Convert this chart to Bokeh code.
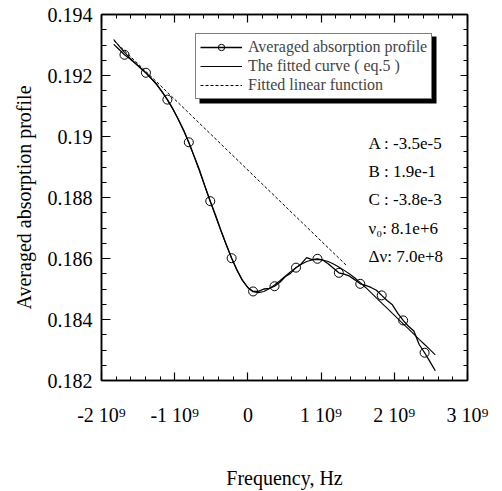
from bokeh.plotting import figure
from bokeh.models import (LinearAxis, FixedTicker, Legend, LegendItem, Range1d,
                          BoxAnnotation, CustomLabelingPolicy)
from bokeh.core.properties import value
from bokeh.embed import file_html
from bokeh.resources import INLINE

# ---------------- data (frequency in units of 1e9 Hz) ----------------
freq_ghz = [-1.832, -1.759, -1.686, -1.613, -1.540, -1.466, -1.393, -1.320, -1.247, -1.173,
            -1.100, -1.027, -0.954, -0.880, -0.807, -0.734, -0.661, -0.588, -0.514, -0.441,
            -0.368, -0.295, -0.222, -0.148, -0.075, -0.002, 0.071, 0.144, 0.218, 0.291,
            0.364, 0.437, 0.510, 0.584, 0.657, 0.730, 0.803, 0.876, 0.950, 1.023,
            1.096, 1.169, 1.242, 1.316, 1.389, 1.462, 1.535, 1.608, 1.682, 1.755,
            1.828, 1.901, 1.974, 2.048, 2.121, 2.194, 2.267, 2.340, 2.414, 2.487,
            2.560]

profile = [0.19302, 0.19285, 0.19268, 0.19255, 0.19240, 0.19224, 0.19209, 0.19190, 0.19172, 0.19146,
           0.19121, 0.19092, 0.19058, 0.19022, 0.18981, 0.18935, 0.18890, 0.18838, 0.18788, 0.18742,
           0.18692, 0.18646, 0.18601, 0.18561, 0.18528, 0.18505, 0.18492, 0.18492, 0.18500, 0.18502,
           0.18509, 0.18522, 0.18540, 0.18552, 0.18570, 0.18583, 0.18603, 0.18596, 0.18599, 0.18595,
           0.18583, 0.18568, 0.18553, 0.18549, 0.18542, 0.18530, 0.18517, 0.18512, 0.18505, 0.18496,
           0.18479, 0.18462, 0.18448, 0.18420, 0.18397, 0.18378, 0.18362, 0.18318, 0.18291, 0.18262,
           0.18232]

fitted = [0.19318, 0.19296, 0.19276, 0.19258, 0.19241, 0.19225, 0.19208, 0.19190, 0.19170, 0.19147,
          0.19120, 0.19090, 0.19057, 0.19020, 0.18979, 0.18934, 0.18886, 0.18837, 0.18787, 0.18738,
          0.18690, 0.18644, 0.18601, 0.18562, 0.18529, 0.18505, 0.18491, 0.18488, 0.18492, 0.18501,
          0.18513, 0.18527, 0.18542, 0.18557, 0.18570, 0.18581, 0.18590, 0.18595, 0.18597, 0.18595,
          0.18590, 0.18582, 0.18572, 0.18561, 0.18549, 0.18536, 0.18521, 0.18505, 0.18488, 0.18471,
          0.18454, 0.18437, 0.18420, 0.18403, 0.18386, 0.18369, 0.18352, 0.18335, 0.18318, 0.18301,
          0.18284]

linear_freq_ghz = [-1.832, 1.360]
linear_vals = [0.19315, 0.18574]

x_ticks = [-2000000000, -1000000000, 0, 1000000000, 2000000000, 3000000000]
x_tick_labels = ["-2 10\u2079", "-1 10\u2079", "0", "1 10\u2079", "2 10\u2079", "3 10\u2079"]
y_ticks = [0.182, 0.184, 0.186, 0.188, 0.19, 0.192, 0.194]
y_tick_labels = ["0.182", "0.184", "0.186", "0.188", "0.19", "0.192", "0.194"]

param_labels = ["A : -3.5e-5", "B :  1.9e-1", "C : -3.8e-3",
                "\u03bd\u2080:  8.1e+6", "\u0394\u03bd:  7.0e+8"]

legend_labels = ["Averaged absorption profile", "The fitted curve ( eq.5 )",
                 "Fitted linear function"]

FONT = "Liberation Serif"

freq_hz = [f * 1e9 for f in freq_ghz]
lin_hz = [f * 1e9 for f in linear_freq_ghz]

p = figure(width=502, height=491, output_backend="svg", toolbar_location=None,
           x_range=Range1d(-2e9, 3e9), y_range=Range1d(0.182, 0.194),
           min_border_left=101, min_border_right=35, min_border_top=14,
           min_border_bottom=111,
           x_axis_label="Frequency, Hz", y_axis_label="Averaged absorption profile")
p.grid.visible = False
p.outline_line_color = "black"
p.outline_line_width = 1.5
p.background_fill_color = "white"
p.border_fill_color = "white"

x_minor = [(-2 + 0.2 * k) * 1e9 for k in range(26)]
y_minor = [0.182 + 0.0005 * k for k in range(25)]
xticker = FixedTicker(ticks=x_ticks, minor_ticks=x_minor)
yticker = FixedTicker(ticks=y_ticks, minor_ticks=y_minor)


def style_axis(ax, ticker, major_in, minor_in):
    ax.ticker = ticker
    ax.major_tick_in = major_in
    ax.major_tick_out = 0
    ax.minor_tick_in = minor_in
    ax.minor_tick_out = 0
    ax.axis_line_color = "black"
    ax.axis_line_width = 1.5
    ax.major_tick_line_color = "black"
    ax.minor_tick_line_color = "black"
    ax.major_tick_line_width = 1.2
    ax.minor_tick_line_width = 1.0
    ax.major_label_text_font = FONT
    ax.major_label_text_font_size = "20px"
    ax.major_label_text_color = "black"
    ax.axis_label_text_font = FONT
    ax.axis_label_text_font_size = "20px"
    ax.axis_label_text_font_style = "normal"
    ax.axis_label_text_color = "black"


xa = p.xaxis[0]
style_axis(xa, xticker, 8, 4)
xa.major_label_overrides = dict(zip(x_ticks, x_tick_labels))
xa.major_label_standoff = 23
xa.axis_label_standoff = 38

ya = p.yaxis[0]
style_axis(ya, yticker, 9, 5)
ya.major_label_overrides = dict(zip(y_ticks, y_tick_labels))
ya.major_label_standoff = 9
ya.axis_label_standoff = 10

# mirror axes: ticks only, no labels
top = LinearAxis()
style_axis(top, xticker, 8, 4)
top.major_label_policy = CustomLabelingPolicy(code="return new Set()")
top.major_label_text_font_size = "1px"
top.major_label_standoff = 0
p.add_layout(top, "above")

right = LinearAxis()
style_axis(right, yticker, 7, 4)
right.major_label_policy = CustomLabelingPolicy(code="return new Set()")
right.major_label_text_font_size = "1px"
right.major_label_standoff = 0
p.add_layout(right, "right")

r_lin = p.line(lin_hz, linear_vals, line_color="black", line_width=1, line_dash="3 2")
r_fit = p.line(freq_hz, fitted, line_color="black", line_width=1.1)
r_data = p.line(freq_hz, profile, line_color="black", line_width=1.3)
r_circ = p.scatter(freq_hz[2::4], profile[2::4], marker="circle", size=9,
                   fill_color=None, line_color="black", line_width=1)

# parameter annotations
px = [1.648e9] * len(param_labels)
py = [0.18978 - 0.00093 * k for k in range(len(param_labels))]
p.text(px, py, text=param_labels, text_font=value(FONT), text_font_size="17px",
       text_baseline="alphabetic", text_align="left", text_color="black")

# legend with drop shadow
LX, LY, LW, LH, SH = 94, 281, 237, 67, 4
shadow = BoxAnnotation(left=LX + SH, right=LX + LW + SH, bottom=LY - SH, top=LY + LH - SH,
                       left_units="screen", right_units="screen",
                       top_units="screen", bottom_units="screen",
                       fill_color="black", fill_alpha=1, line_color=None)
p.add_layout(shadow)

legend = Legend(items=[LegendItem(label=legend_labels[0], renderers=[r_data, r_circ]),
                       LegendItem(label=legend_labels[1], renderers=[r_fit]),
                       LegendItem(label=legend_labels[2], renderers=[r_lin])],
                location=(LX, LY), padding=4, spacing=1, margin=0,
                glyph_width=42, glyph_height=16, label_height=16, label_standoff=6,
                label_text_font=FONT, label_text_font_size="16px",
                border_line_color="black", border_line_width=1.5,
                background_fill_color="white", background_fill_alpha=1)
p.add_layout(legend)

open("out.html", "w").write(file_html(p, INLINE))
